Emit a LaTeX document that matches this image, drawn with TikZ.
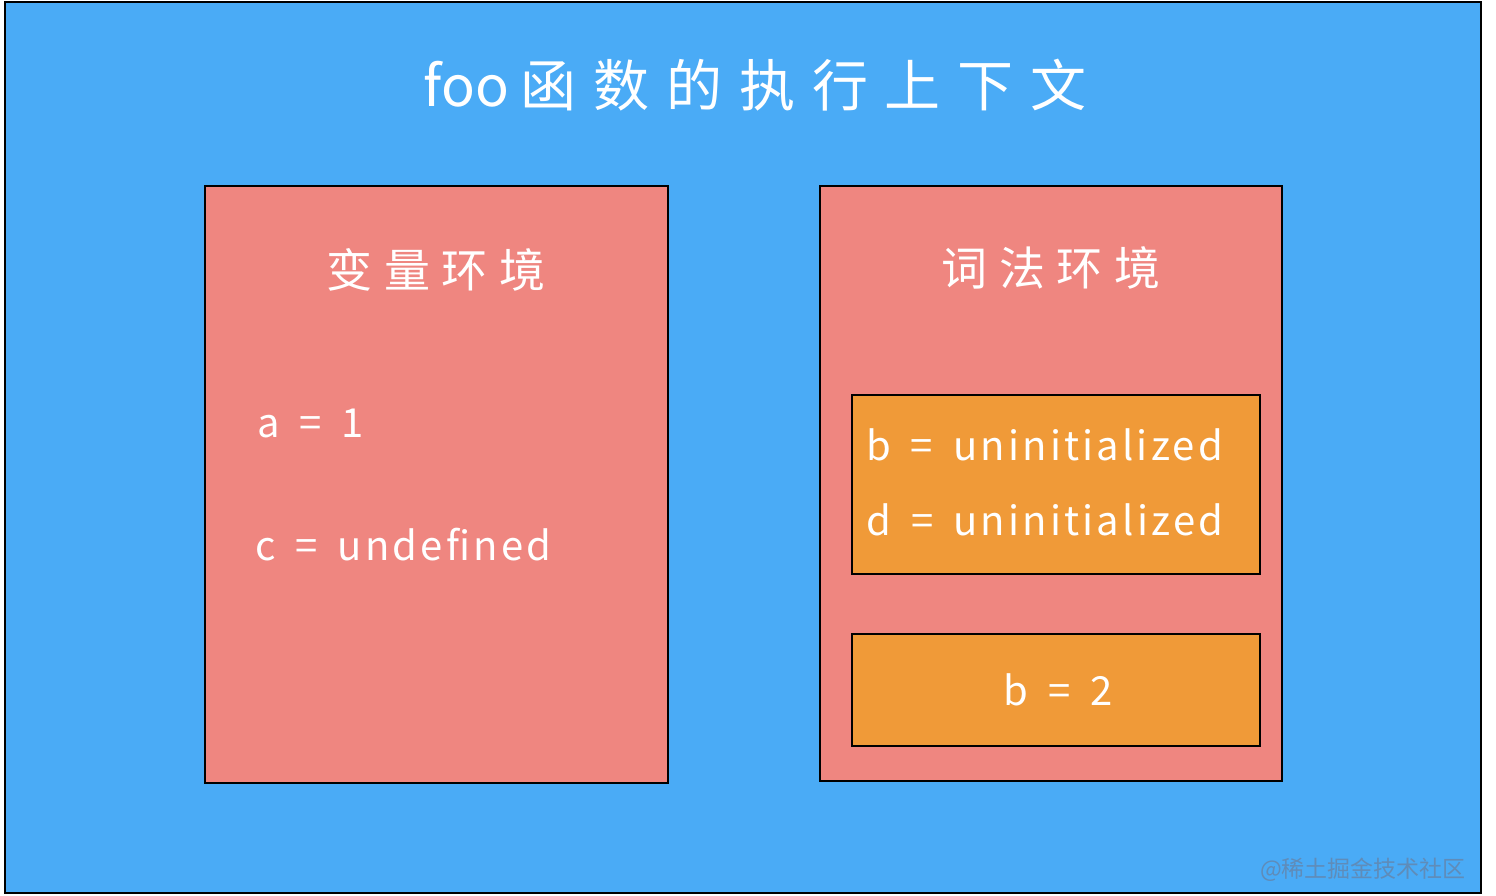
\documentclass[tikz,border=0pt]{standalone}
\usepackage{fontspec}
\setmainfont{Noto Sans CJK SC}
\definecolor{bgblue}{RGB}{74,171,246}
\definecolor{boxpink}{RGB}{239,134,128}
\definecolor{boxorange}{RGB}{240,154,56}
\definecolor{wmark}{RGB}{95,140,185}
\newcommand{\eqs}{\hspace{20pt}=\hspace{20pt}}
\tikzset{
  envbox/.style={draw=black, line width=2.5pt, fill=boxpink},
  itembox/.style={draw=black, line width=1.5pt, fill=boxorange},
  wtext/.style={text=white, inner sep=0pt},
  itemfont/.style={font=\fontsize{40}{46}\selectfont\addfontfeature{LetterSpace=8}},
  headfont/.style={font=\fontsize{46}{52}\selectfont\addfontfeature{LetterSpace=25}},
}
\begin{document}
\begin{tikzpicture}[x=1pt,y=-1pt]
\useasboundingbox (0,0) rectangle (1496,896);
\fill[white] (0,0) rectangle (1496,896);
\draw[fill=bgblue, draw=black, line width=2.5pt] (5,2) rectangle (1481,893);
% title
\node[wtext, font=\fontsize{56}{62}\selectfont] (title) at (755,85) {foo\hspace{12pt}{\addfontfeature{LetterSpace=30}函数的执行上下文}};
% left box
\draw[envbox] (205,186) rectangle (668,783);
\node[wtext, headfont] (vtitle) at (436,270) {变量环境};
\node[wtext, anchor=west, itemfont] (a) at (257,423) {a\eqs 1};
\node[wtext, anchor=west, itemfont] (c) at (255,545) {c\eqs undefined};
% right box
\draw[envbox] (820,186) rectangle (1282,781);
\node[wtext, headfont] (ltitle) at (1051,268) {词法环境};
\draw[itembox] (852,395) rectangle (1260,574);
\node[wtext, anchor=west, itemfont] (b1) at (866,445) {b\eqs uninitialized};
\node[wtext, anchor=west, itemfont] (d1) at (866,520) {d\eqs uninitialized};
\draw[itembox] (852,634) rectangle (1260,746);
\node[wtext, itemfont] (b2) at (1058,690) {b\eqs 2};
% watermark
\node[text=wmark, anchor=east, inner sep=0pt, font=\fontsize{23}{27}\selectfont] (wm) at (1466,870) {@稀土掘金技术社区};
\end{tikzpicture}
\end{document}
